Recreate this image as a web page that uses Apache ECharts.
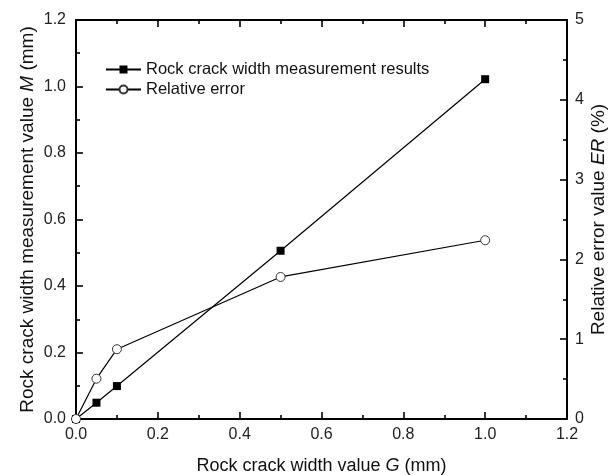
<!DOCTYPE html>
<html><head><meta charset="utf-8">
<script src="https://cdn.jsdelivr.net/npm/echarts@6/dist/echarts.min.js"></script>
<style>html,body{margin:0;padding:0;background:#fff}#c{width:609px;height:475px}</style>
</head><body><div id="c"></div>
<script>
const xValues = [0, 0.05, 0.1, 0.5, 1.0];
const measured = [0, 0.049, 0.099, 0.506, 1.022];
const relError = [0, 0.505, 0.875, 1.78, 2.24];
const seriesNames = ['Rock crack width measurement results', 'Relative error'];
const xTitle = 'Rock crack width value {i|G} (mm)';
const yLeftTitle = 'Rock crack width measurement value {i|M} (mm)';
const yRightTitle = 'Relative error value {i|ER} (%)';

const font = 'Liberation Sans, Arial, sans-serif';
const mkAxis = () => ({
  nameMoveOverlap: false,
  axisLine: {show: true, onZero: false, lineStyle: {color: '#000', width: 2}},
  axisTick: {show: true, inside: true, length: 7, lineStyle: {color: '#000', width: 1.6}},
  minorTick: {show: true, splitNumber: 2, length: 4, lineStyle: {color: '#000', width: 1.6}},
  splitLine: {show: false}
});
const titleStyle = (size) => ({fontFamily: font, fontSize: size, color: '#111',
  rich: {i: {fontFamily: font, fontSize: size, fontStyle: 'italic', color: '#111'}}});
const chart = echarts.init(document.getElementById('c'));
chart.setOption({
  animation: false,
  backgroundColor: '#fff',
  grid: {left: 76, right: 42, top: 20, bottom: 56, containLabel: false, outerBoundsMode: 'none'},
  legend: {
    left: 105, top: 61, padding: 0, orient: 'vertical', itemGap: 3, itemWidth: 35, itemHeight: 10,
    textStyle: {fontFamily: font, fontSize: 16.5, color: '#111'},
    data: seriesNames
  },
  xAxis: [
    Object.assign(mkAxis(), {
      type: 'value', min: 0, max: 1.2, interval: 0.2, position: 'bottom',
      axisLabel: {fontFamily: font, fontSize: 16, color: '#222', margin: 8,
        formatter: v => v.toFixed(1)},
      name: xTitle, nameLocation: 'middle', nameGap: 38, nameTextStyle: titleStyle(18)
    }),
    Object.assign(mkAxis(), {
      type: 'value', min: 0, max: 1.2, interval: 0.2, position: 'top',
      axisLabel: {show: false}
    })
  ],
  yAxis: [
    Object.assign(mkAxis(), {
      type: 'value', min: 0, max: 1.2, interval: 0.2, position: 'left',
      axisLabel: {fontFamily: font, fontSize: 16, color: '#222', margin: 10,
        formatter: v => v.toFixed(1)},
      name: yLeftTitle, nameLocation: 'middle', nameGap: 39, nameTextStyle: titleStyle(19)
    }),
    Object.assign(mkAxis(), {
      type: 'value', min: 0, max: 5, interval: 1, position: 'right',
      axisLabel: {fontFamily: font, fontSize: 16, color: '#222', margin: 8},
      name: yRightTitle, nameLocation: 'middle', nameGap: 22, nameTextStyle: titleStyle(19)
    })
  ],
  series: [
    {
      name: seriesNames[0], type: 'line', xAxisIndex: 0, yAxisIndex: 0,
      data: xValues.map((x, i) => [x, measured[i]]),
      symbol: 'rect', symbolSize: 8, showAllSymbol: true,
      lineStyle: {color: '#000', width: 1.2},
      itemStyle: {color: '#000', borderColor: '#000', borderWidth: 0}
    },
    {
      name: seriesNames[1], type: 'line', xAxisIndex: 0, yAxisIndex: 1,
      data: xValues.map((x, i) => [x, relError[i]]),
      symbol: 'circle', symbolSize: 9, showAllSymbol: true,
      lineStyle: {color: '#000', width: 1.2},
      itemStyle: {color: '#fff', borderColor: '#333', borderWidth: 1}
    },
    {
      name: 'topAxisHolder', type: 'line', xAxisIndex: 1, yAxisIndex: 0,
      data: [], silent: true, showSymbol: false
    }
  ]
});
</script></body></html>
